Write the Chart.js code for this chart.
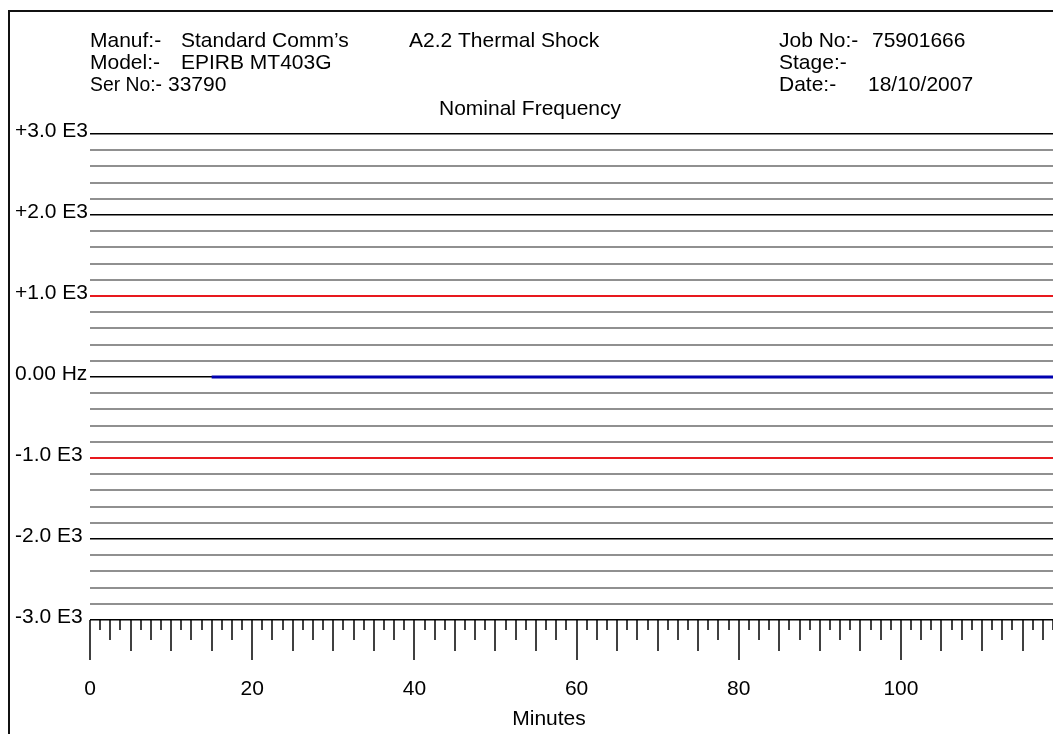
<!DOCTYPE html>
<html>
<head>
<title>Nominal Frequency</title>
<script src="https://cdn.jsdelivr.net/npm/chart.js"></script>
<style>
  body { margin: 0; background: #fff; }
  canvas { display: block; }
</style>
</head>
<body>
<canvas id="freqChart" width="1053" height="734"></canvas>
<script>
const FONT = 'Arial, "Liberation Sans", sans-serif';

// header block
const headerLeftLabels = ['Manuf:-', 'Model:-', 'Ser No:-'];
const headerLeftValues = ['Standard Comm\u2019s', 'EPIRB MT403G', '33790'];
const headerRightLabels = ['Job No:-', 'Stage:-', 'Date:-'];
const headerRightValues = ['75901666', '', '18/10/2007'];
const testName = 'A2.2 Thermal Shock';
const chartTitle = 'Nominal Frequency';
const xTitle = 'Minutes';

// axes
const yTickValues = [3000, 2000, 1000, 0, -1000, -2000, -3000];
const yTickLabels = ['+3.0 E3', '+2.0 E3', '+1.0 E3', '0.00 Hz', '-1.0 E3', '-2.0 E3', '-3.0 E3'];
const limitValues = [1000, -1000];
const xTickValues = [0, 20, 40, 60, 80, 100];

// series: minutes vs. offset from nominal (Hz)
const minutes = [15, 118.75];
const freqOffset = [0, 0];

const decor = {
    id: 'decor',
    afterDraw(chart) {
        const ctx = chart.ctx;
        const xs = chart.scales.x;
        const axisY = chart.chartArea.bottom;
        ctx.save();

        // page frame
        ctx.strokeStyle = '#111';
        ctx.lineWidth = 2;
        ctx.beginPath();
        ctx.moveTo(9, chart.height);
        ctx.lineTo(9, 11);
        ctx.lineTo(chart.width, 11);
        ctx.stroke();

        // ruler ticks under the axis
        ctx.strokeStyle = '#000';
        ctx.lineWidth = 1.5;
        xs.ticks.forEach(t => {
            const v = t.value;
            let len = 10;
            if (v % 20 === 0) len = 40;
            else if (v % 5 === 0) len = 31;
            else if (v % 2.5 === 0) len = 20;
            const px = Math.round(xs.getPixelForValue(v));
            ctx.beginPath();
            ctx.moveTo(px, axisY);
            ctx.lineTo(px, axisY + len);
            ctx.stroke();
        });

        // texts
        ctx.fillStyle = '#000';
        ctx.font = '21px ' + FONT;
        ctx.textBaseline = 'alphabetic';
        ctx.textAlign = 'left';
        const rows = [47, 69, 91];
        const leftValX = [181, 181, 168];
        const leftLabW = [72, 72, 72];
        const rightValX = [872, 872, 868];
        headerLeftLabels.forEach((s, i) => {
            ctx.fillText(s, 90, rows[i], leftLabW[i]);
            ctx.fillText(headerLeftValues[i], leftValX[i], rows[i]);
        });
        headerRightLabels.forEach((s, i) => {
            ctx.fillText(s, 779, rows[i]);
            ctx.fillText(headerRightValues[i], rightValX[i], rows[i]);
        });
        ctx.fillText(testName, 409, 47);
        ctx.textAlign = 'center';
        ctx.fillText(chartTitle, 530, 115);
        ctx.fillText(xTitle, 549, 725);
        ctx.restore();
    }
};

new Chart(document.getElementById('freqChart'), {
    type: 'line',
    data: {
        datasets: [{
            data: minutes.map((m, i) => ({ x: m, y: freqOffset[i] })),
            borderColor: '#0000b0',
            borderWidth: 3,
            pointRadius: 0,
            fill: false,
            tension: 0
        }]
    },
    options: {
        responsive: false,
        animation: false,
        layout: { padding: { left: 15, top: 134, right: 0, bottom: 0 } },
        plugins: { legend: { display: false }, tooltip: { enabled: false } },
        scales: {
            x: {
                type: 'linear',
                min: 0,
                max: 118.75,
                afterFit(s) { s.height = 114; s.paddingRight = 0; },
                border: { display: false },
                grid: { display: false, drawTicks: true, tickLength: 57 },
                ticks: {
                    stepSize: 1.25,
                    autoSkip: false,
                    maxRotation: 0,
                    padding: 0,
                    color: '#000',
                    font: { family: FONT, size: 21 },
                    callback: v => xTickValues.includes(v) ? String(v) : ''
                }
            },
            y: {
                min: -3000,
                max: 3000,
                afterFit(s) { s.width = 75; },
                border: { display: false },
                grid: {
                    drawTicks: false,
                    color: c => limitValues.includes(c.tick.value) ? '#e8191e'
                        : (c.tick.value % 1000 === 0 ? '#000' : '#909090'),
                    lineWidth: c => c.tick.value % 1000 === 0 && !limitValues.includes(c.tick.value) ? 1.5 : 2
                },
                ticks: {
                    stepSize: 200,
                    autoSkip: false,
                    crossAlign: 'far',
                    padding: 0,
                    labelOffset: -3,
                    color: '#000',
                    font: { family: FONT, size: 21 },
                    callback: v => {
                        const i = yTickValues.indexOf(v);
                        return i < 0 ? '' : yTickLabels[i];
                    }
                }
            }
        }
    },
    plugins: [decor]
});
</script>
</body>
</html>
